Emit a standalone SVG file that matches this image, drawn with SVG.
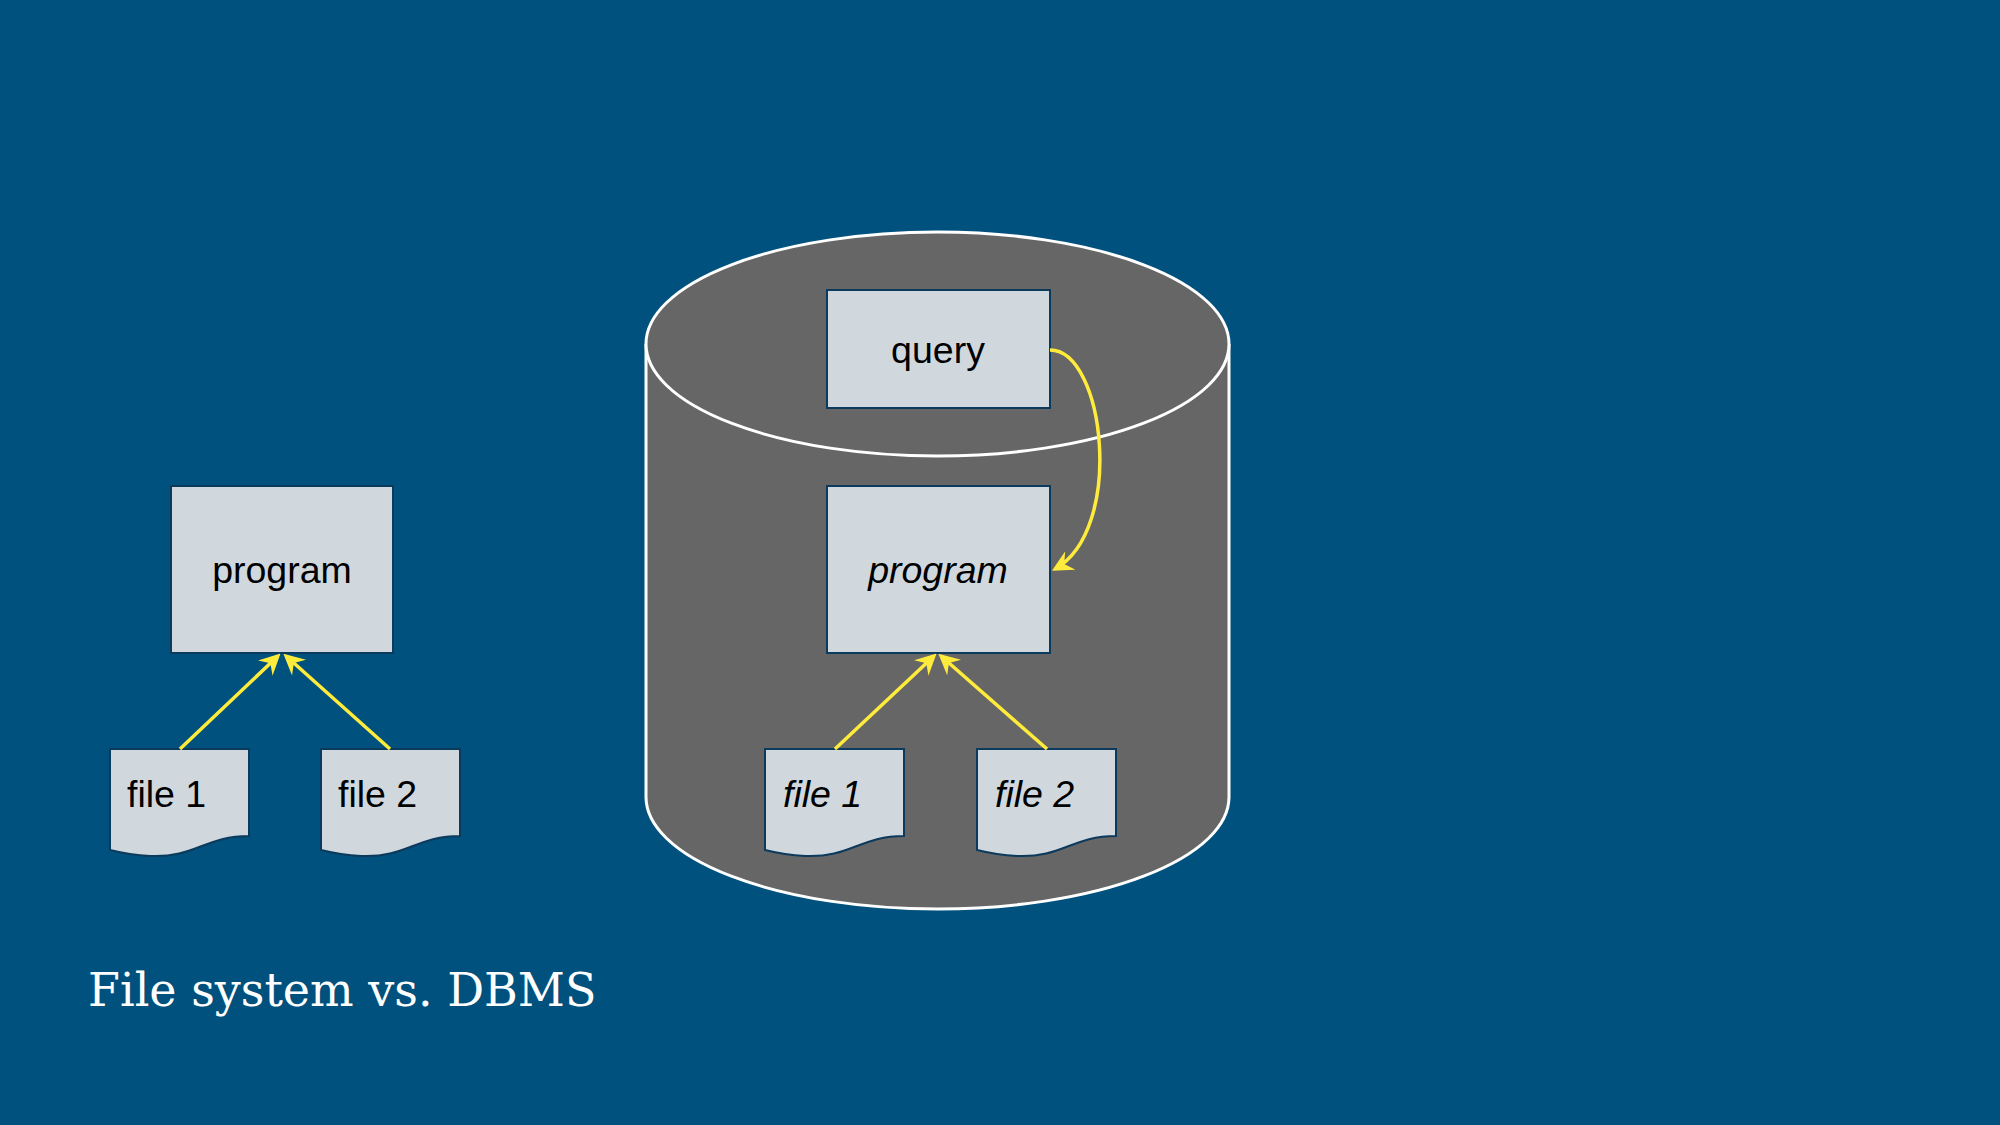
<svg xmlns="http://www.w3.org/2000/svg" width="2000" height="1125" viewBox="0 0 2000 1125">
<defs>
<style>
.box{fill:#d0d8de;stroke:#0b3a5c;stroke-width:2}
.t{font-family:"Liberation Sans",Arial,sans-serif;font-size:37.5px;fill:#000}
.i{font-style:italic}
.c{fill:none;stroke:#ffeb3b;stroke-width:3.5}
</style>
<marker id="ah" viewBox="0 0 12 12" refX="10" refY="6" markerWidth="6" markerHeight="6" orient="auto" markerUnits="strokeWidth"><path d="M0,0 L12,6 L0,12 L4,6 Z" fill="#ffeb3b"/></marker>
<path id="doc" d="M0,0 H139 V87 C95,87 85,109 40,107 C20,106 8,103 0,101 Z"/>
</defs>
<rect width="2000" height="1125" fill="#00517d"/>
<g id="cylinder">
<path d="M646,344 V797 A291.5,112 0 0 0 1229,797 V344" fill="#666" stroke="#fff" stroke-width="3"/>
<ellipse cx="937.5" cy="344" rx="291.5" ry="112" fill="#666" stroke="#fff" stroke-width="3"/>
</g>
<g id="program1"><rect class="box" x="171" y="486" width="222" height="167"/><text class="t" x="282" y="583" text-anchor="middle">program</text></g>
<g id="file1a"><use href="#doc" class="box" x="110" y="749"/><text class="t" x="127" y="807">file 1</text></g>
<g id="file2a"><use href="#doc" class="box" x="321" y="749"/><text class="t" x="338" y="807">file 2</text></g>
<g id="query"><rect class="box" x="827" y="290" width="223" height="118"/><text class="t" x="938" y="363" text-anchor="middle">query</text></g>
<g id="program2"><rect class="box" x="827" y="486" width="223" height="167"/><text class="t i" x="938" y="583" text-anchor="middle">program</text></g>
<g id="file1b"><use href="#doc" class="box" x="765" y="749"/><text class="t i" x="783" y="807">file 1</text></g>
<g id="file2b"><use href="#doc" class="box" x="977" y="749"/><text class="t i" x="995" y="807">file 2</text></g>
<g id="connectors">
<path class="c" d="M180,749 L278,656" marker-end="url(#ah)"/>
<path class="c" d="M390,749 L286,656" marker-end="url(#ah)"/>
<path class="c" d="M835,749 L934,656" marker-end="url(#ah)"/>
<path class="c" d="M1047,749 L941,656" marker-end="url(#ah)"/>
<path class="c" d="M1050,350 C1105,350 1125,530 1055,569" marker-end="url(#ah)"/>
</g>
<text x="88" y="1006" font-family="'DejaVu Serif',serif" font-size="46" fill="#fff">File system vs. DBMS</text>
</svg>
